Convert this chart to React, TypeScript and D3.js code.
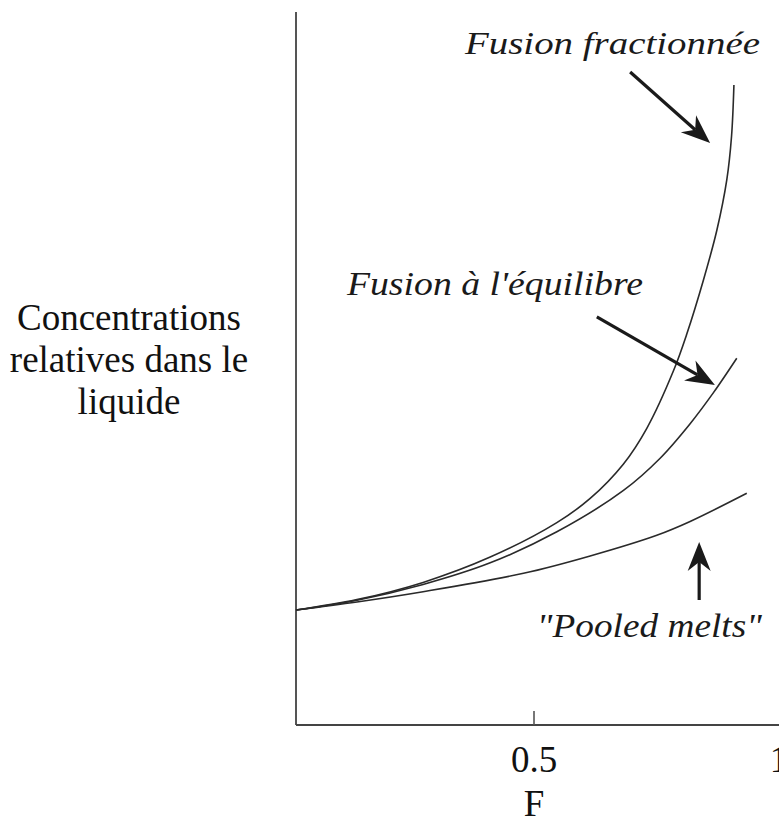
import React from "react";
import * as d3 from "d3";

// F values (melt fraction) and relative liquid concentrations
const fractionalF = [0, 0.128, 0.267, 0.408, 0.548, 0.618, 0.688, 0.737, 0.793, 0.821, 0.856, 0.884, 0.905, 0.915, 0.92];
const fractionalC = [1.0, 1.09, 1.24, 1.46, 1.76, 1.97, 2.27, 2.58, 3.08, 3.4, 3.87, 4.3, 4.74, 5.12, 5.565];

const equilibriumF = [0, 0.128, 0.267, 0.408, 0.548, 0.688, 0.765, 0.828, 0.877, 0.926];
const equilibriumC = [1.0, 1.085, 1.222, 1.41, 1.68, 2.04, 2.32, 2.62, 2.89, 3.189];

const pooledF = [0, 0.128, 0.267, 0.478, 0.618, 0.758, 0.828, 0.947];
const pooledC = [1.0, 1.07, 1.159, 1.319, 1.47, 1.65, 1.77, 2.015];

const xTicks = [0.5, 1];
const xTickLabels = ["0.5", "1"];

const yLabelLines = ["Concentrations", "relatives dans le", "liquide"];
const xTitle = "F";

// annotations: label text, label anchor (F, C), arrow from (F, C) to (F, C)
const annotations = [
  { text: "Fusion fractionnée", at: [0.355, 5.835], width: 295, size: 31, from: [0.702, 5.678], to: [0.87, 5.061] },
  { text: "Fusion à l'équilibre", at: [0.107, 3.739], width: 296, size: 33, from: [0.632, 3.548], to: [0.88, 2.957] },
  { text: "\"Pooled melts\"", at: [0.506, 0.765], width: 225, size: 33, from: [0.847, 1.087], to: [0.847, 1.591] },
];

const W = 779;
const H = 823;

export default function App() {
  const x = d3.scaleLinear().domain([0, 1]).range([296, 772]);
  const y = d3.scaleLinear().domain([0, 6.2]).range([725, 12]);

  const line = d3
    .line<[number, number]>()
    .x((d) => x(d[0]))
    .y((d) => y(d[1]))
    .curve(d3.curveCatmullRom.alpha(0.5));

  const series = [
    fractionalF.map((f, i) => [f, fractionalC[i]] as [number, number]),
    equilibriumF.map((f, i) => [f, equilibriumC[i]] as [number, number]),
    pooledF.map((f, i) => [f, pooledC[i]] as [number, number]),
  ];

  const arrowHead = (x1: number, y1: number, x2: number, y2: number) => {
    const dx = x2 - x1;
    const dy = y2 - y1;
    const len = Math.hypot(dx, dy);
    const ux = dx / len;
    const uy = dy / len;
    const nx = -uy;
    const ny = ux;
    const back = 29;
    const half = 11.5;
    const notch = 20;
    const p1 = [x2 - ux * back + nx * half, y2 - uy * back + ny * half];
    const p2 = [x2 - ux * notch, y2 - uy * notch];
    const p3 = [x2 - ux * back - nx * half, y2 - uy * back - ny * half];
    return `M${x2},${y2}L${p1[0]},${p1[1]}L${p2[0]},${p2[1]}L${p3[0]},${p3[1]}Z`;
  };

  const serif = "'Liberation Serif', 'Times New Roman', serif";

  return (
    <svg
      width={W}
      height={H}
      style={{ position: "absolute", left: 0, top: 0, background: "#fff" }}
    >
      <rect width={W} height={H} fill="#fff" />
      {/* axes */}
      <line x1={x(0)} y1={y(6.2)} x2={x(0)} y2={y(0)} stroke="#555" strokeWidth={2} />
      <line x1={x(0)} y1={y(0)} x2={W} y2={y(0)} stroke="#444" strokeWidth={2} />
      {xTicks.map((t, i) => (
        <g key={t}>
          {i === 0 && <line x1={x(t)} x2={x(t)} y1={y(0)} y2={y(0) - 14} stroke="#555" strokeWidth={1.6} />}
          <text
            x={x(t) + (i === 1 ? 7 : 0)}
            y={772}
            textAnchor="middle"
            fontFamily={serif}
            fontSize={37}
            fill="#111"
          >
            {xTickLabels[i]}
          </text>
        </g>
      ))}
      <text x={x(0.5)} y={816} textAnchor="middle" fontFamily={serif} fontSize={37} fill="#111">
        {xTitle}
      </text>
      {yLabelLines.map((s, i) => (
        <text
          key={s}
          x={129}
          y={330 + i * 42}
          textAnchor="middle"
          fontFamily={serif}
          fontSize={37}
          fill="#111"
        >
          {s}
        </text>
      ))}
      {/* curves */}
      {series.map((s, i) => (
        <path key={i} d={line(s) || ""} fill="none" stroke="#2a2a2a" strokeWidth={1.6} />
      ))}
      {/* annotations */}
      {annotations.map((a) => {
        const x1 = x(a.from[0]);
        const y1 = y(a.from[1]);
        const x2 = x(a.to[0]);
        const y2 = y(a.to[1]);
        const len = Math.hypot(x2 - x1, y2 - y1);
        const ex = x2 - ((x2 - x1) / len) * 20;
        const ey = y2 - ((y2 - y1) / len) * 20;
        return (
          <g key={a.text}>
            <text
              x={x(a.at[0])}
              y={y(a.at[1])}
              fontFamily={serif}
              fontStyle="italic"
              fontSize={a.size}
              fill="#1a1a1a"
              textLength={a.width}
              lengthAdjust="spacingAndGlyphs"
            >
              {a.text}
            </text>
            <line x1={x1} y1={y1} x2={ex} y2={ey} stroke="#1a1a1a" strokeWidth={3.2} />
            <path d={arrowHead(x1, y1, x2, y2)} fill="#1a1a1a" />
          </g>
        );
      })}
    </svg>
  );
}
